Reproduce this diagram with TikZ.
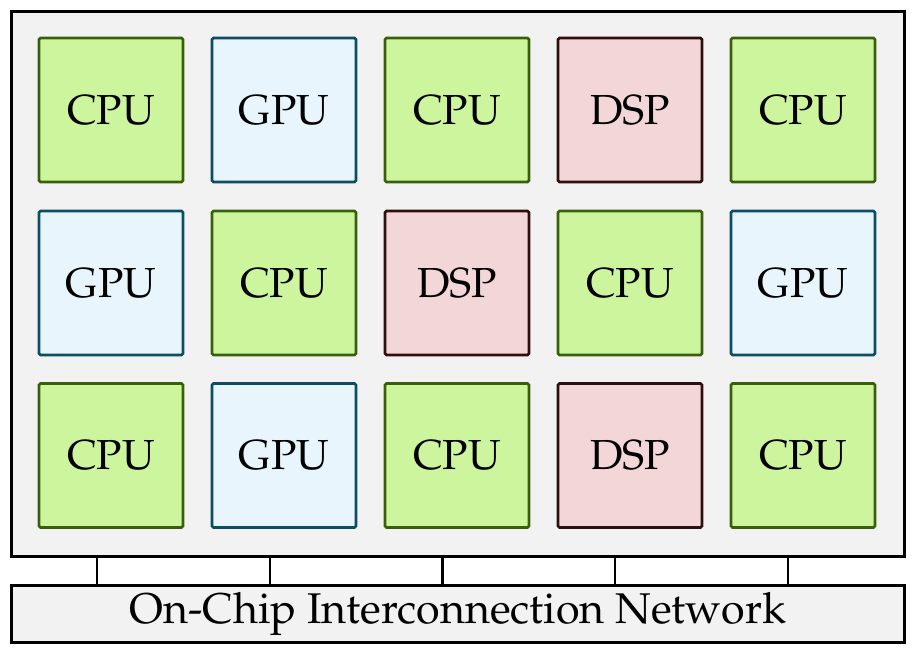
\documentclass[tikz,border=0pt]{standalone}
\usepackage[T1]{fontenc}
\usepackage{mathpazo}
\definecolor{bgc}{HTML}{F2F2F2}
\definecolor{cpuf}{HTML}{CDF59E}
\definecolor{cpud}{HTML}{3A5F0B}
\definecolor{gpuf}{HTML}{E8F5FD}
\definecolor{gpud}{HTML}{0B4D63}
\definecolor{dspf}{HTML}{F3D6D8}
\definecolor{dspd}{HTML}{2E0E0E}
\tikzset{
  pe/.style={minimum width=144pt,minimum height=144pt,inner sep=0pt,line width=2.6pt,rounded corners=1.5pt,font=\fontsize{42}{48}\selectfont},
  CPU/.style={pe,draw=cpud,fill=cpuf},
  GPU/.style={pe,draw=gpud,fill=gpuf},
  DSP/.style={pe,draw=dspd,fill=dspf},
  link/.style={line width=2.2pt,black}
}
\begin{document}
\begin{tikzpicture}[x=1pt,y=-1pt]
\useasboundingbox (0,0) rectangle (912,654);
\node[draw,line width=3pt,fill=bgc,minimum width=893pt,minimum height=545pt,inner sep=0pt,anchor=north west] (chip) at (10,10) {};
\node[draw,line width=2.6pt,fill=bgc,minimum width=893pt,minimum height=57pt,inner sep=0pt,anchor=north west,font=\fontsize{43}{48}\selectfont] (noc) at (10,584) {On-Chip Interconnection Network};
\foreach \t [count=\i] in {CPU,GPU,CPU,DSP,CPU}{
  \pgfmathsetmacro\xx{111+173*(\i-1)}
  \node[\t] (a\i) at (\xx,110) {\t};
}
\foreach \t [count=\i] in {GPU,CPU,DSP,CPU,GPU}{
  \pgfmathsetmacro\xx{111+173*(\i-1)}
  \node[\t] (b\i) at (\xx,283) {\t};
}
\foreach \t [count=\i] in {CPU,GPU,CPU,DSP,CPU}{
  \pgfmathsetmacro\xx{111+173*(\i-1)}
  \node[\t] (c\i) at (\xx,455.5) {\t};
}
\foreach \i in {1,...,5}{
  \pgfmathsetmacro\xx{97+172.75*(\i-1)}
  \coordinate (t\i) at (\xx,555);
  \coordinate (u\i) at (\xx,584);
  \draw[link] (t\i) -- (u\i);
}
\end{tikzpicture}
\end{document}
